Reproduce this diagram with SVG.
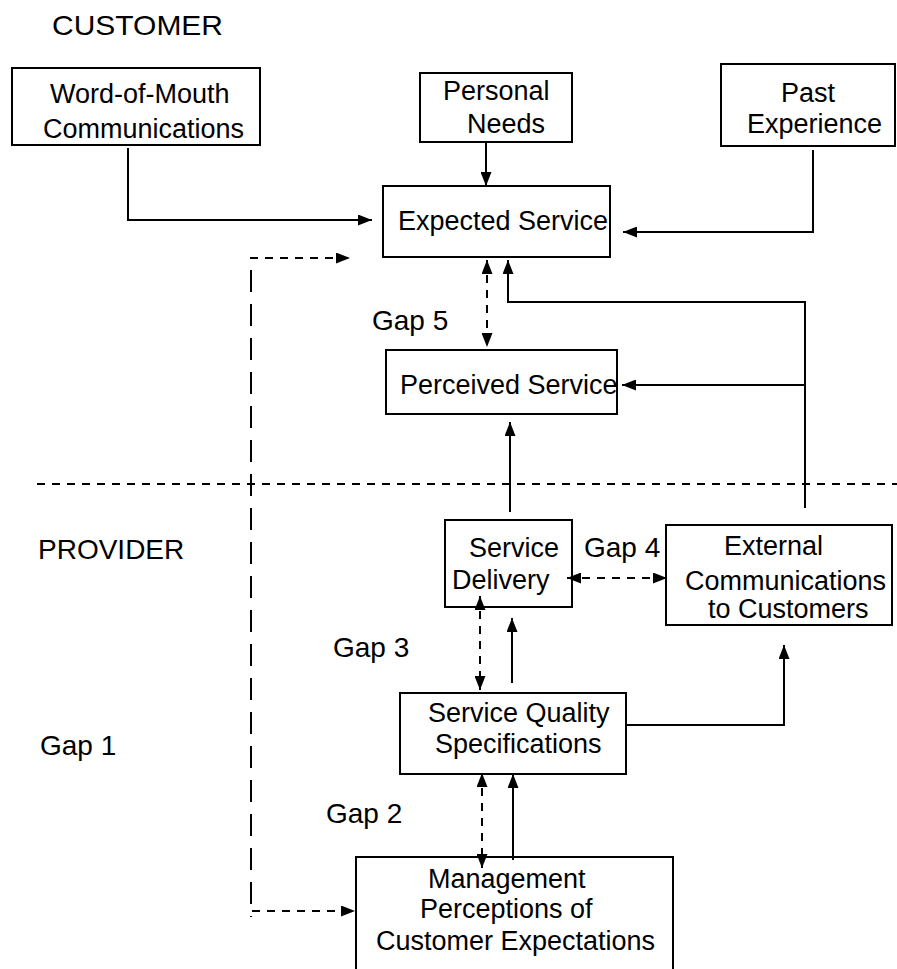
<svg xmlns="http://www.w3.org/2000/svg" width="897" height="969" viewBox="0 0 897 969">
<style>
.box{fill:none;stroke:#000;stroke-width:2}
text{font-family:"Liberation Sans",Arial,sans-serif;font-size:27px;fill:#000}
.lbl{font-size:28px}
.c{fill:none;stroke:#000;stroke-width:2}
.d{stroke-dasharray:8 7}
.dl{stroke-dasharray:22 12}
</style>
<defs>
<marker id="ah" viewBox="0 0 14 11" refX="14" refY="5.5" markerWidth="14" markerHeight="11" orient="auto-start-reverse" markerUnits="userSpaceOnUse">
<path d="M0,0 L14,5.5 L0,11 z" fill="#000"/>
</marker>
</defs>
<rect width="897" height="969" fill="#fff"/>
<text class="lbl" x="52" y="35" textLength="171" lengthAdjust="spacingAndGlyphs">CUSTOMER</text>
<text class="lbl" x="38" y="559">PROVIDER</text>
<text class="lbl" x="40" y="755">Gap 1</text>
<text class="lbl" x="372" y="330">Gap 5</text>
<text class="lbl" x="584" y="557">Gap 4</text>
<text class="lbl" x="333" y="657">Gap 3</text>
<text class="lbl" x="326" y="823">Gap 2</text>
<g id="wom"><rect class="box" x="12" y="68" width="248" height="77"/>
<text x="50" y="103">Word-of-Mouth</text><text x="43" y="138">Communications</text></g>
<g id="personal"><rect class="box" x="420" y="73" width="152" height="69"/>
<text x="443" y="100">Personal</text><text x="467" y="133">Needs</text></g>
<g id="past"><rect class="box" x="721" y="64" width="174" height="82"/>
<text x="781" y="102">Past</text><text x="747" y="133">Experience</text></g>
<g id="expected"><rect class="box" x="383" y="186" width="227" height="71"/>
<text x="398" y="230">Expected Service</text></g>
<g id="perceived"><rect class="box" x="386" y="350" width="231" height="64"/>
<text x="400" y="394">Perceived Service</text></g>
<g id="delivery"><rect class="box" x="445" y="520" width="127" height="87"/>
<text x="469" y="557">Service</text><text x="452" y="589">Delivery</text></g>
<g id="external"><rect class="box" x="666" y="525" width="226" height="100"/>
<text x="724" y="555">External</text><text x="685" y="590">Communications</text><text x="708" y="618">to Customers</text></g>
<g id="quality"><rect class="box" x="400" y="693" width="226" height="81"/>
<text x="428" y="722">Service Quality</text><text x="435" y="753">Specifications</text></g>
<g id="management"><rect class="box" x="356" y="857" width="317" height="120"/>
<text x="428" y="888">Management</text><text x="420" y="918">Perceptions of</text><text x="376" y="950">Customer Expectations</text></g>
<g id="connectors">
<path class="c d" d="M37,484 H897"/>
<path class="c" d="M128,148 V220 H372" marker-end="url(#ah)"/>
<path class="c" d="M486,142 V186" marker-end="url(#ah)"/>
<path class="c" d="M813,150 V232 H623" marker-end="url(#ah)"/>
<path class="c d" d="M250,258 H350" marker-end="url(#ah)"/>
<path class="c dl" d="M251,270 V917"/>
<path class="c d" d="M252,911 H355" marker-end="url(#ah)"/>
<path class="c d" d="M487,260 V347" marker-start="url(#ah)" marker-end="url(#ah)"/>
<path class="c" d="M805,508 V302 H508 V260" marker-end="url(#ah)"/>
<path class="c" d="M805,385 H622" marker-end="url(#ah)"/>
<path class="c" d="M510,512 V422" marker-end="url(#ah)"/>
<path class="c d" d="M567,578 H667" marker-start="url(#ah)" marker-end="url(#ah)"/>
<path class="c d" d="M480,596 V690" marker-start="url(#ah)" marker-end="url(#ah)"/>
<path class="c" d="M512,683 V618" marker-end="url(#ah)"/>
<path class="c" d="M626,725 H784 V645" marker-end="url(#ah)"/>
<path class="c d" d="M482,773 V868" marker-start="url(#ah)" marker-end="url(#ah)"/>
<path class="c" d="M513,860 V774" marker-end="url(#ah)"/>
</g>
</svg>
